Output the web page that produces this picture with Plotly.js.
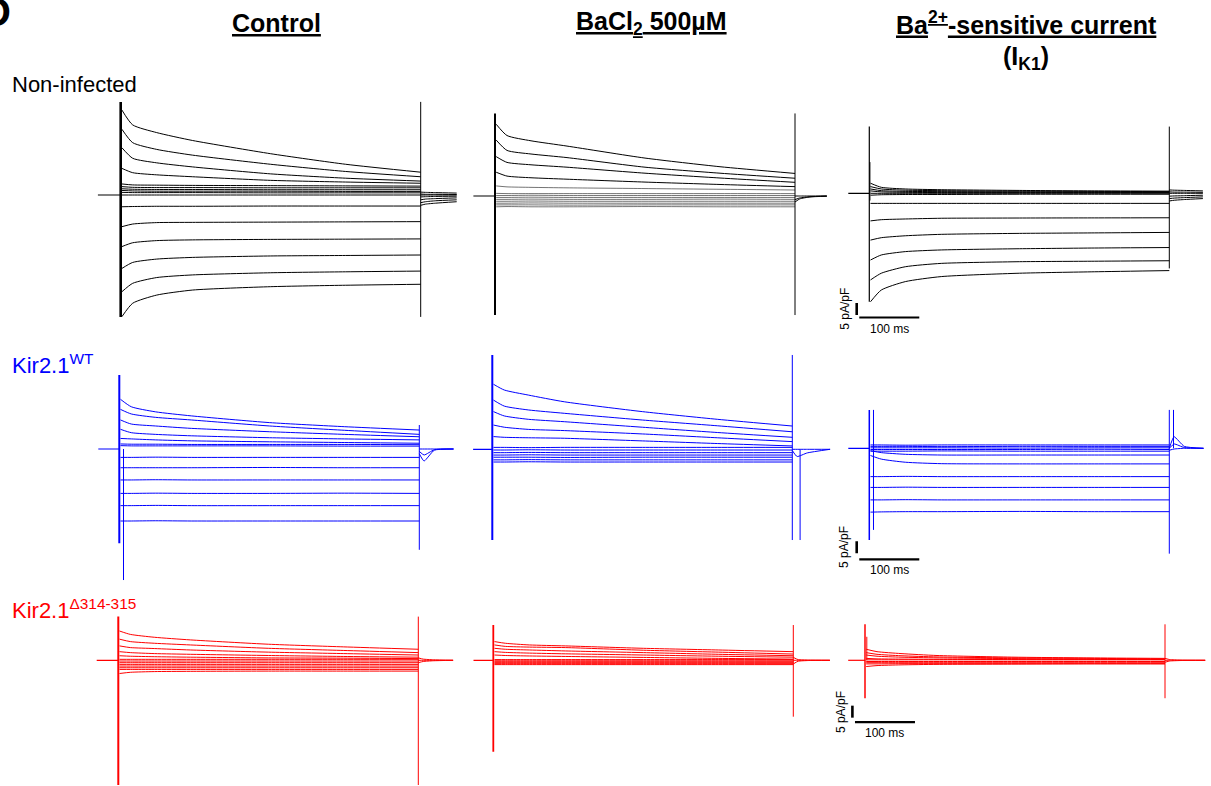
<!DOCTYPE html>
<html>
<head>
<meta charset="utf-8">
<script src="https://cdn.plot.ly/plotly-3.0.1.min.js"></script>
<style>
html,body{margin:0;padding:0;background:#ffffff;}
#chart{width:1211px;height:786px;}
</style>
</head>
<body>
<div id="chart"></div>
<script>
// ---------------- DATA (current density, pA/pF; time, ms) ----------------
// sample times inside the 500 ms test pulse
const T = [2, 20, 60, 120, 250, 375, 500];
// sample times of the return-to-holding tail (last value = end of trace)
const TAIL_T = [500, 508, 525];

const PANEL_LETTER = "D";
const COLUMN_TITLES = ["Control", "BaCl<sub>2</sub> 500\u00b5M", "Ba<sup>2+</sup>-sensitive current"];
const ROW_LABELS = ["Non-infected", "Kir2.1<sup>WT</sup>", "Kir2.1<sup>\u0394314-315</sup>"];
const SCALE_I = 5;     // pA/pF
const SCALE_T = 100;   // ms

// start of the pre-pulse holding segment and end of the recorded tail, per panel
const PRE_START = [-38, -36, -35, -35, -32, -35, -36, -33, -28];
const TAIL_END  = [560, 553, 556, 557, 563, 557, 558, 561, 567];

// ---- Non-infected ----
const NI_CTRL_SWEEPS = [
  [35.4, 29.2, 26.0, 22.7, 17.2, 12.8, 9.5],
  [27.4, 21.8, 19.0, 16.6, 12.8, 9.8, 7.6],
  [19.7, 15.3, 13.4, 11.7, 8.8, 7.0, 5.8],
  [11.1, 9.3, 8.4, 7.6, 6.1, 5.4, 4.9],
  [4.6, 4.2, 4.1, 4.0, 3.9, 3.8, 3.7],
  [3.5, 3.2, 3.1, 3.1, 3.0, 3.0, 3.0],
  [2.6, 2.4, 2.3, 2.3, 2.2, 2.2, 2.2],
  [1.9, 1.7, 1.6, 1.6, 1.6, 1.5, 1.5],
  [1.1, 1.0, 1.0, 1.0, 0.9, 0.9, 0.9],
  [0, 0, 0, 0, 0, 0, 0],
  [-4.9, -4.8, -4.7, -4.7, -4.6, -4.6, -4.6],
  [-13.2, -12.1, -11.5, -11.4, -11.3, -11.2, -11.1],
  [-21.5, -19.9, -19.0, -18.7, -18.5, -18.4, -18.3],
  [-30.6, -28.1, -26.7, -26.0, -25.4, -25.2, -25.0],
  [-40.3, -36.8, -34.4, -33.3, -32.4, -32.0, -31.7],
  [-50.7, -45.1, -41.7, -39.6, -38.2, -37.6, -37.2]
];
const NI_CTRL_TRANS = [[0, 38.8, -50.8], [500, 38.8, -50.8]];
const NI_CTRL_TAILS = [
  [1.2, 1.1, 1.0, 0.8], [0.4, 0.3, 0.3, 0.2], [0, 0, 0, 0],
  [-0.8, -0.7, -0.6, -0.5], [-2.0, -1.7, -1.5, -1.2],
  [-3.2, -2.8, -2.4, -2.0], [-4.3, -3.8, -3.4, -2.8]
];

const NI_BA_SWEEPS = [
  [29.9, 25.2, 23.0, 20.8, 15.8, 12.2, 9.4],
  [23.3, 19.0, 17.5, 16.0, 12.0, 9.5, 7.4],
  [16.4, 14.0, 13.0, 12.0, 9.5, 7.5, 5.7],
  [9.9, 8.3, 7.6, 7.0, 5.8, 4.8, 3.9],
  [4.2, 3.8, 3.6, 3.4, 3.1, 2.8, 2.5],
  [1.1, 1.0, 1.0, 1.0, 1.0, 1.0, 1.0],
  [0.2, 0.2, 0.3, 0.2, 0.2, 0.2, 0.2],
  [-0.6, -0.6, -0.5, -0.6, -0.6, -0.6, -0.6],
  [-1.4, -1.4, -1.3, -1.4, -1.4, -1.3, -1.4],
  [-2.2, -2.2, -2.1, -2.2, -2.2, -2.2, -2.2],
  [-3.0, -3.0, -2.9, -3.0, -3.0, -3.0, -3.0],
  [-3.7, -3.7, -3.7, -3.8, -3.7, -3.7, -3.7],
  [-4.5, -4.4, -4.5, -4.5, -4.4, -4.5, -4.5]
];
const NI_BA_TRANS = [[0, 34.4, -49.6], [500, 34.4, -49.6]];
const NI_BA_TAILS = [[0, 0, 0, 0], [-1.5, -0.8, -0.3, 0], [-2.5, -1.2, -0.4, -0.1]];

const NI_IK1_SWEEPS = [
  [4.2, 2.5, 1.8, 1.5, 1.2, 1.0, 0.9],
  [2.8, 1.8, 1.3, 1.1, 0.9, 0.8, 0.7],
  [1.8, 1.1, 0.8, 0.7, 0.6, 0.5, 0.5],
  [1.0, 0.6, 0.4, 0.3, 0.3, 0.3, 0.3],
  [0, 0, 0, 0, 0, 0, 0],
  [-0.8, -0.6, -0.5, -0.5, -0.4, -0.4, -0.4],
  [-4.2, -4.2, -4.2, -4.2, -4.2, -4.2, -4.2],
  [-11.5, -11.0, -10.7, -10.4, -10.3, -10.25, -10.2],
  [-19.5, -18.5, -17.7, -17.1, -16.7, -16.5, -16.3],
  [-27.8, -25.7, -24.3, -23.6, -23.1, -22.8, -22.6],
  [-36.1, -33.3, -30.6, -29.2, -28.5, -28.3, -28.1],
  [-45.2, -40.3, -36.8, -34.7, -33.3, -32.7, -32.2]
];
const NI_IK1_TRANS = [[0, 27.8, -45.2], [1, 13, -3], [500, 27.8, -31.3]];
const NI_IK1_TAILS = [
  [1.4, 1.3, 1.2, 1.0], [0.6, 0.5, 0.5, 0.4], [0, 0, 0, 0],
  [-1.2, -1.1, -1.0, -0.8], [-2.2, -2.0, -1.8, -1.5], [-3.2, -2.9, -2.6, -2.2]
];

// ---- Kir2.1 WT ----
const WT_CTRL_SWEEPS = [
  [20.7, 17.6, 15.5, 13.8, 11.0, 9.3, 7.9],
  [16.5, 14.6, 13.2, 12.1, 9.6, 7.8, 6.1],
  [12.1, 10.4, 9.6, 8.6, 7.2, 6.1, 5.1],
  [8.2, 6.8, 6.1, 5.5, 4.7, 4.2, 3.8],
  [4.4, 4.2, 3.8, 3.4, 3.0, 2.7, 2.4],
  [2.1, 2.0, 2.0, 1.9, 1.9, 1.9, 1.8],
  [1.4, 1.3, 1.3, 1.3, 1.3, 1.2, 1.2],
  [-3.5, -3.5, -3.4, -3.5, -3.5, -3.5, -3.5],
  [-7.8, -7.8, -7.8, -7.8, -7.7, -7.8, -7.8],
  [-12.9, -12.9, -12.8, -12.9, -12.9, -12.9, -12.9],
  [-18.5, -18.5, -18.4, -18.5, -18.5, -18.4, -18.5],
  [-23.6, -23.6, -23.5, -23.6, -23.6, -23.6, -23.6],
  [-30.0, -30.0, -29.9, -30.0, -30.0, -30.0, -30.0]
];
const WT_CTRL_TRANS = [[0, 30.8, -39.3], [7, 0, -54.6], [500, 10, -42]];
const WT_CTRL_TAILS = [[0, 0, 0, 0], [-2.0, -5.0, -0.5, 0], [-1.0, -2.5, -0.3, 0]];

const WT_BA_SWEEPS = [
  [27.1, 24.7, 22.6, 19.8, 15.7, 12.5, 9.7],
  [20.5, 18.0, 16.4, 15.0, 12.2, 9.8, 7.3],
  [15.7, 13.9, 12.5, 11.5, 9.2, 7.0, 5.0],
  [10.1, 9.2, 8.3, 7.8, 6.4, 4.8, 3.2],
  [5.3, 5.0, 4.8, 4.6, 3.5, 2.4, 1.4],
  [0.8, 0.8, 0.7, 0.8, 0.8, 0.8, 0.8],
  [-0.3, -0.3, -0.2, -0.3, -0.3, -0.3, -0.3],
  [-1.4, -1.4, -1.3, -1.4, -1.4, -1.4, -1.4],
  [-2.4, -2.4, -2.3, -2.4, -2.4, -2.4, -2.4],
  [-3.3, -3.3, -3.3, -3.4, -3.3, -3.3, -3.3],
  [-4.4, -4.4, -4.3, -4.4, -4.4, -4.4, -4.4],
  [-5.3, -5.3, -5.2, -5.3, -5.3, -5.3, -5.3]
];
const WT_BA_TRANS = [[0, 39.3, -37.8], [500, 39.3, -37.8], [513, 0, -37.8]];
const WT_BA_TAILS = [[0, 0, 0, 0], [-0.5, -3.0, -1.5, 0]];

const WT_IK1_SWEEPS = [
  [1.4, 1.4, 1.3, 1.4, 1.4, 1.4, 1.4],
  [0.8, 0.8, 0.8, 0.7, 0.8, 0.8, 0.8],
  [0.2, 0.2, 0.2, 0.2, 0.1, 0.2, 0.2],
  [-0.5, -0.5, -0.5, -0.5, -0.5, -0.4, -0.5],
  [-1.2, -1.2, -1.2, -1.1, -1.2, -1.2, -1.2],
  [-1.0, -1.8, -2.5, -2.8, -2.8, -2.8, -2.8],
  [-3.0, -4.5, -5.8, -6.4, -6.5, -6.5, -6.5],
  [-11.8, -11.8, -11.7, -11.8, -11.8, -11.8, -11.8],
  [-16.3, -16.3, -16.2, -16.3, -16.3, -16.3, -16.3],
  [-21.5, -21.5, -21.4, -21.5, -21.5, -21.5, -21.5],
  [-26.6, -26.5, -26.4, -26.4, -26.3, -26.4, -26.4]
];
const WT_IK1_TRANS = [[0, 16, -38.2], [7, 16, -34], [500, 16, -43.9], [507, 16, 0]];
const WT_IK1_TAILS = [[0, 4.8, 0.8, 0], [0, 1.8, 0.3, 0], [-0.8, -0.3, 0, 0]];

// ---- Kir2.1 delta314-315 ----
const DM_CTRL_SWEEPS = [
  [12.2, 10.8, 9.6, 8.5, 6.7, 5.6, 4.6],
  [8.8, 7.8, 7.1, 6.4, 5.0, 4.1, 3.2],
  [6.0, 5.3, 4.9, 4.3, 3.4, 2.8, 2.2],
  [3.6, 3.2, 2.8, 2.5, 2.0, 1.6, 1.3],
  [1.9, 1.7, 1.5, 1.3, 1.0, 0.9, 0.7],
  [0.4, 0.4, 0.4, 0.4, 0.4, 0.4, 0.4],
  [-0.3, -0.3, -0.3, -0.3, -0.3, -0.3, -0.3],
  [-1.0, -1.0, -1.0, -1.0, -1.0, -1.0, -1.0],
  [-1.7, -1.7, -1.7, -1.7, -1.7, -1.7, -1.7],
  [-2.4, -2.4, -2.4, -2.4, -2.4, -2.4, -2.4],
  [-3.1, -3.1, -3.1, -3.1, -3.1, -3.1, -3.1],
  [-3.8, -3.8, -3.8, -3.8, -3.8, -3.8, -3.8],
  [-5.5, -5.0, -4.7, -4.6, -4.5, -4.5, -4.5]
];
const DM_CTRL_TRANS = [[0, 18.2, -52], [500, 18.2, -52]];
const DM_CTRL_TAILS = [[0, 0, 0, 0], [1.0, 0.5, 0.2, 0], [-1.0, -0.5, -0.2, 0]];

const DM_BA_SWEEPS = [
  [7.8, 7.1, 6.4, 6.0, 5.0, 4.3, 3.6],
  [6.4, 5.8, 5.5, 5.3, 4.2, 3.4, 2.6],
  [5.0, 4.6, 4.3, 3.9, 3.2, 2.5, 1.9],
  [3.6, 3.3, 3.0, 2.7, 2.2, 1.7, 1.3],
  [2.2, 2.0, 1.8, 1.6, 1.2, 0.8, 0.5],
  [0.3, 0.3, 0.3, 0.3, 0.3, 0.3, 0.3],
  [-0.2, -0.2, -0.2, -0.2, -0.2, -0.2, -0.2],
  [-0.6, -0.6, -0.6, -0.6, -0.6, -0.6, -0.6],
  [-1.0, -1.0, -1.0, -1.0, -1.0, -1.0, -1.0],
  [-1.4, -1.4, -1.4, -1.4, -1.4, -1.4, -1.4],
  [-1.8, -1.8, -1.8, -1.8, -1.8, -1.8, -1.8]
];
const DM_BA_TRANS = [[0, 14.7, -38.1], [500, 14.7, -23.5]];
const DM_BA_TAILS = [[0, 0, 0, 0], [1.2, 0.3, 0.1, 0], [-1.5, -0.4, -0.1, 0]];

const DM_IK1_SWEEPS = [
  [4.6, 3.6, 2.8, 2.0, 1.3, 1.0, 0.8],
  [3.2, 2.5, 1.9, 1.4, 1.0, 0.8, 0.6],
  [2.2, 1.7, 1.3, 1.0, 0.7, 0.5, 0.4],
  [0.8, 0.6, 0.5, 0.4, 0.3, 0.3, 0.3],
  [0.2, 0.2, 0.2, 0.2, 0.2, 0.2, 0.2],
  [-0.5, -0.5, -0.5, -0.5, -0.5, -0.5, -0.5],
  [-1.0, -1.0, -1.0, -1.0, -1.0, -1.0, -1.0],
  [-1.5, -1.5, -1.4, -1.4, -1.4, -1.4, -1.4],
  [-2.6, -2.2, -1.9, -1.7, -1.6, -1.5, -1.5]
];
const DM_IK1_TRANS = [[0, 15, -15.8], [3, 9.8, 0], [500, 15, -15.8]];
const DM_IK1_TAILS = [[0, 0, 0, 0], [0.8, 0.3, 0.1, 0], [-0.8, -0.3, -0.1, 0]];

// ---------------- LAYOUT / STYLE ----------------
const W = 1211, H = 786;
const PX_MS = 0.6;   // px per ms
const PX_I = 2.4;    // px per pA/pF
const FONT = "Liberation Sans, Arial, sans-serif";
const COLORS = ["#000000", "#0000ff", "#ff0000"];

// pixel position of (t=0, I=0) for each panel
const PANELS = [
  {sw: NI_CTRL_SWEEPS, tr: NI_CTRL_TRANS, tl: NI_CTRL_TAILS, row: 0, col: 0, x0: 120.7, b: 195.0, onw: 2.6},
  {sw: NI_BA_SWEEPS,   tr: NI_BA_TRANS,   tl: NI_BA_TAILS,   row: 0, col: 1, x0: 495.0, b: 196.0, onw: 2.0, dense: true},
  {sw: NI_IK1_SWEEPS,  tr: NI_IK1_TRANS,  tl: NI_IK1_TAILS,  row: 0, col: 2, x0: 869.3, b: 193.3, onw: 1.2},
  {sw: WT_CTRL_SWEEPS, tr: WT_CTRL_TRANS, tl: WT_CTRL_TAILS, row: 1, col: 0, x0: 119.3, b: 449.0, onw: 2.0},
  {sw: WT_BA_SWEEPS,   tr: WT_BA_TRANS,   tl: WT_BA_TAILS,   row: 1, col: 1, x0: 492.3, b: 449.3, onw: 2.0},
  {sw: WT_IK1_SWEEPS,  tr: WT_IK1_TRANS,  tl: WT_IK1_TAILS,  row: 1, col: 2, x0: 869.3, b: 448.3, onw: 1.5},
  {sw: DM_CTRL_SWEEPS, tr: DM_CTRL_TRANS, tl: DM_CTRL_TAILS, row: 2, col: 0, x0: 118.3, b: 660.3, onw: 2.0},
  {sw: DM_BA_SWEEPS,   tr: DM_BA_TRANS,   tl: DM_BA_TAILS,   row: 2, col: 1, x0: 493.3, b: 660.3, onw: 1.8},
  {sw: DM_IK1_SWEEPS,  tr: DM_IK1_TRANS,  tl: DM_IK1_TAILS,  row: 2, col: 2, x0: 865.0, b: 660.3, onw: 1.5}
];
const X_WANT = [-45, 570];
const Y_WANT = [[-56, 42], [-56, 42], [-52, 41]];
// scale-bar placement (in panel data units) for rows of column 3
const SB_VBOTTOM = [-50.7, -43.75, -23.9];
const SB_HLEVEL  = [-51.75, -46.25, -25.8];
const SB_X = -21, SB_H0 = -16.7;

const traces = [];
const layout = {
  width: W, height: H,
  margin: {l: 0, r: 0, t: 0, b: 0, pad: 0},
  paper_bgcolor: "#ffffff", plot_bgcolor: "rgba(0,0,0,0)",
  showlegend: false, hovermode: false,
  annotations: []
};

function line(x, y, ax, color, width, extra) {
  traces.push({type: "scatter", mode: "lines", x: x, y: y, xaxis: ax[0], yaxis: ax[1],
    line: Object.assign({color: color, width: width}, extra || {}), hoverinfo: "skip"});
}

PANELS.forEach((p, i) => {
  const k = i + 1;
  const xa = "x" + (k === 1 ? "" : k), ya = "y" + (k === 1 ? "" : k);
  const xl = Math.max(0, p.x0 + X_WANT[0] * PX_MS), xr = Math.min(W, p.x0 + X_WANT[1] * PX_MS);
  const yw = Y_WANT[p.row];
  const yt = Math.max(0, p.b - yw[1] * PX_I), yb = Math.min(H, p.b - yw[0] * PX_I);
  layout["xaxis" + (k === 1 ? "" : k)] = {
    domain: [xl / W, xr / W], range: [(xl - p.x0) / PX_MS, (xr - p.x0) / PX_MS],
    visible: false, fixedrange: true, anchor: ya
  };
  layout["yaxis" + (k === 1 ? "" : k)] = {
    domain: [1 - yb / H, 1 - yt / H], range: [(p.b - yb) / PX_I, (p.b - yt) / PX_I],
    visible: false, fixedrange: true, anchor: xa
  };
  const c = COLORS[p.row];
  const ax = [xa, ya];
  line([PRE_START[i], 0], [0, 0], ax, c, 1.2);
  p.tr.forEach((t, j) => line([t[0], t[0]], [t[1], t[2]], ax, c, j === 0 ? p.onw : 1));
  p.sw.forEach(s => line(T, s, ax, p.dense && Math.abs(s[0]) < 5 ? "rgba(0,0,0,0.55)" : c, 1,
    {shape: "spline", smoothing: 0.6}));
  p.tl.forEach(s => line(TAIL_T.concat([TAIL_END[i]]), s, ax, c, 1, {shape: "spline", smoothing: 0.5}));
  if (p.col === 2) {
    const vb = SB_VBOTTOM[p.row], hl = SB_HLEVEL[p.row];
    line([SB_X, SB_X], [vb, vb + SCALE_I], ax, "#000000", 2.6);
    line([SB_H0, SB_H0 + SCALE_T], [hl, hl], ax, "#000000", 2.2);
    layout.annotations.push({
      text: SCALE_I + " pA/pF", xref: xa, yref: ya, x: SB_X, y: vb + SCALE_I / 2,
      xanchor: "right", yanchor: "middle", xshift: -3, textangle: -90, showarrow: false,
      font: {family: FONT, size: 12, color: "#000000"}
    });
    layout.annotations.push({
      text: SCALE_T + " ms", xref: xa, yref: ya, x: SB_H0 + SCALE_T / 2, y: hl,
      xanchor: "center", yanchor: "top", yshift: -2, showarrow: false,
      font: {family: FONT, size: 12, color: "#000000"}
    });
  }
});

// cropped panel letter in the top-left corner
layout.annotations.push({
  text: "<b>" + PANEL_LETTER + "</b>", xref: "paper", yref: "paper",
  x: 13 / W, y: 1 - 12 / H, xanchor: "right", yanchor: "middle", showarrow: false,
  font: {family: FONT, size: 40, color: "#000000"}
});
// column titles
const TITLE_X = [276, 651, 1026];
COLUMN_TITLES.forEach((t, j) => {
  layout.annotations.push({
    text: "<b><u>" + t + "</u></b>", xref: "paper", yref: "paper",
    x: TITLE_X[j] / W, y: 1 - 23 / H, xanchor: "center", yanchor: "middle", showarrow: false,
    font: {family: FONT, size: 25, color: "#000000"}
  });
});
layout.annotations.push({
  text: "<b>(I<sub>K1</sub>)</b>", xref: "paper", yref: "paper",
  x: 1026 / W, y: 1 - 58 / H, xanchor: "center", yanchor: "middle", showarrow: false,
  font: {family: FONT, size: 25, color: "#000000"}
});
// row labels
const ROW_Y = [85, 364, 609];
ROW_LABELS.forEach((t, j) => {
  layout.annotations.push({
    text: t, xref: "paper", yref: "paper", x: 10 / W, y: 1 - ROW_Y[j] / H,
    xanchor: "left", yanchor: "middle", showarrow: false,
    font: {family: FONT, size: 22, color: COLORS[j]}
  });
});

Plotly.newPlot("chart", traces, layout, {staticPlot: true, displayModeBar: false});
</script>
</body>
</html>
